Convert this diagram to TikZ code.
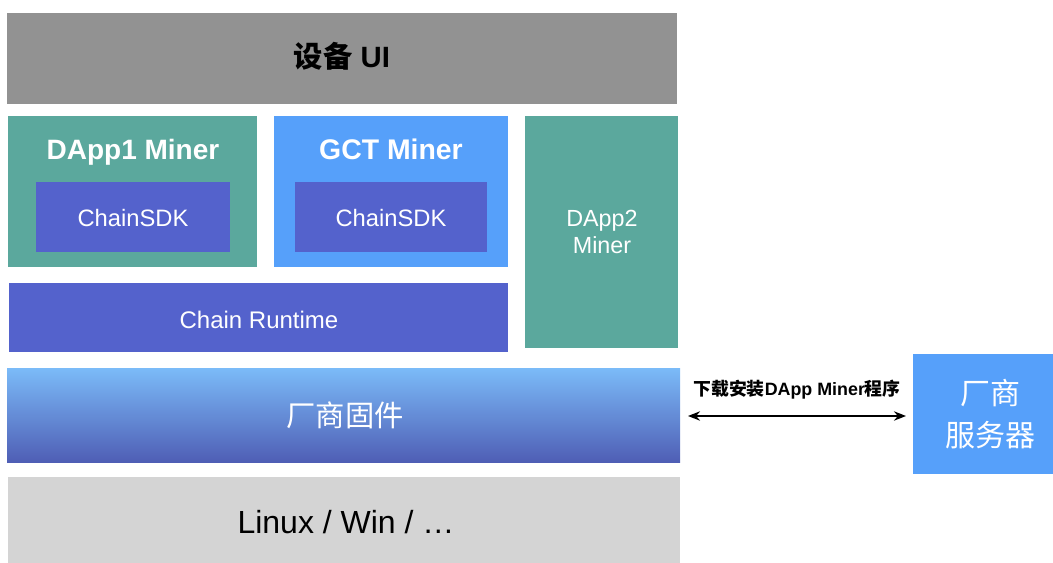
\documentclass[tikz,border=0pt]{standalone}
\usepackage{fontspec}
\setmainfont{Liberation Sans}
\newfontfamily\cjk{Noto Sans CJK SC}
\usetikzlibrary{arrows.meta}
\definecolor{uigray}{HTML}{929292}
\definecolor{teal}{HTML}{5BA89D}
\definecolor{sdk}{HTML}{5462CC}
\definecolor{sky}{HTML}{56A0FA}
\definecolor{fwtop}{HTML}{7BBBF8}
\definecolor{fwbot}{HTML}{4F5EB5}
\definecolor{osgray}{HTML}{D4D4D4}
\tikzset{
  layer/.style={inner sep=0pt, outer sep=0pt, draw=none},
  wtext/.style={text=white, inner sep=0pt, align=center},
  ktext/.style={text=black, inner sep=0pt, align=center},
  twoway/.style={{Stealth[length=9pt,width=7pt]}-{Stealth[length=9pt,width=7pt]}},
}
\begin{document}
\begin{tikzpicture}[x=0.75pt,y=-0.75pt]
\useasboundingbox (0,0) rectangle (1053,563);
% device UI
\node[layer, fill=uigray, minimum width=670*0.75pt, minimum height=91*0.75pt] (ui) at (342,58.5) {};
\node[ktext, anchor=base, font=\fontsize{22}{26}\selectfont\bfseries] (uit) at (342,68) {{\cjk\bfseries 设备} UI};
% DApp1 miner with its SDK
\node[layer, fill=teal, minimum width=249*0.75pt, minimum height=151*0.75pt] (d1) at (132.5,191.5) {};
\node[wtext, anchor=base, font=\fontsize{21}{25}\selectfont\bfseries] (d1t) at (133,160) {DApp1 Miner};
\node[layer, fill=sdk, minimum width=194*0.75pt, minimum height=70*0.75pt] (s1) at (133,217) {};
\node[wtext, anchor=base, font=\fontsize{17.8}{21}\selectfont] (s1t) at (133,226) {ChainSDK};
% GCT miner with its SDK
\node[layer, fill=sky, minimum width=234*0.75pt, minimum height=151*0.75pt] (g) at (391,191.5) {};
\node[wtext, anchor=base, font=\fontsize{21.3}{25}\selectfont\bfseries] (gt) at (391,160) {GCT Miner};
\node[layer, fill=sdk, minimum width=192*0.75pt, minimum height=70*0.75pt] (s2) at (391,217) {};
\node[wtext, anchor=base, font=\fontsize{17.8}{21}\selectfont] (s2t) at (391,226) {ChainSDK};
% DApp2 miner
\node[layer, fill=teal, minimum width=153*0.75pt, minimum height=232*0.75pt] (d2) at (601.5,232) {};
\node[wtext, font=\fontsize{17.5}{20}\selectfont] (d2t) at (602,232) {DApp2\\Miner};
% chain runtime
\node[layer, fill=sdk, minimum width=499*0.75pt, minimum height=69*0.75pt] (rt) at (258.5,317.5) {};
\node[wtext, anchor=base, font=\fontsize{18}{21}\selectfont] (rtt) at (259,328) {Chain Runtime};
% vendor firmware
\node[layer, top color=fwtop, bottom color=fwbot, minimum width=673*0.75pt, minimum height=94*0.75pt] (fw) at (343.5,415) {};
\node[wtext, font=\fontsize{22}{26}\selectfont\cjk] (fwt) at (345,415) {厂商固件};
% operating system
\node[layer, fill=osgray, minimum width=672*0.75pt, minimum height=86*0.75pt] (os) at (344,520) {};
\node[ktext, anchor=base, font=\fontsize{24}{28}\selectfont] (ost) at (346,533) {Linux / Win / \dots};
% vendor server
\node[layer, fill=sky, minimum width=140*0.75pt, minimum height=120*0.75pt] (srv) at (983,414) {};
\node[wtext, font=\fontsize{22.5}{31}\selectfont\cjk] (srvt) at (990,414) {厂商\\服务器};
% download link
\draw[twoway, line width=1.6pt, shorten <=8*0.75pt, shorten >=7*0.75pt]
  (fw.east |- 0,416) coordinate (a0) -- (srv.west |- a0);
\node[ktext, font=\fontsize{13.4}{16}\selectfont\bfseries] (lbl) at (797,390) {{\cjk\bfseries 下载安装}DApp Miner{\cjk\bfseries 程序}};
\end{tikzpicture}
\end{document}
